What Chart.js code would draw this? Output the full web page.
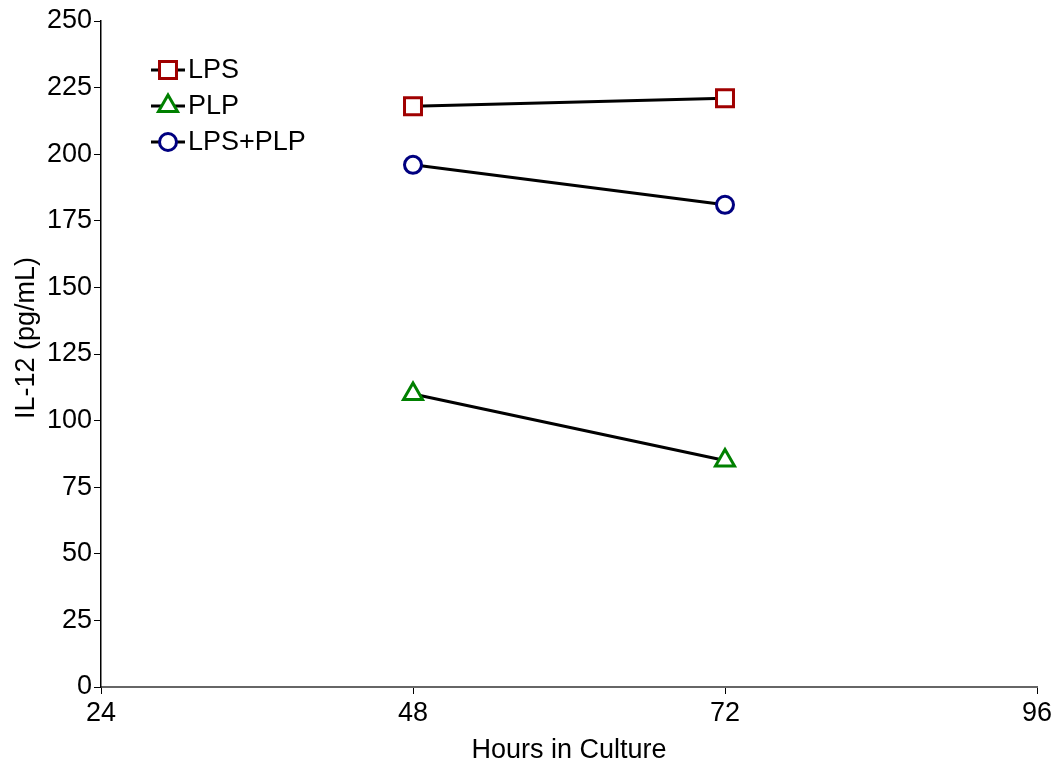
<!DOCTYPE html>
<html>
<head>
<meta charset="utf-8">
<script src="https://cdn.jsdelivr.net/npm/chart.js@4"></script>
<style>
  html, body { margin: 0; padding: 0; background: #fff; }
  #wrap { width: 1058px; height: 767px; }
</style>
</head>
<body>
<div id="wrap"><canvas id="chart" width="1058" height="767"></canvas></div>
<script>
const hours = [48, 72];
const lps = [218, 221];
const plp = [110, 85];
const lpsPlp = [196, 181];
const seriesNames = ['LPS', 'PLP', 'LPS+PLP'];
const xTicks = [24, 48, 72, 96];
const yTitle = 'IL-12 (pg/mL)';

const FONT = "'Liberation Sans', Arial, sans-serif";
const markerSize = { rect: 12, triangle: 11, circle: 8.5 };

function toPoints(xs, ys) {
    return xs.map((x, i) => ({ x: x, y: ys[i] }));
}

function makeSet(label, values, color, style) {
    return {
        label: label,
        data: toPoints(hours, values),
        borderColor: '#000',
        borderWidth: 3,
        pointStyle: style,
        pointRadius: markerSize[style],
        pointBorderColor: color,
        pointBackgroundColor: '#fff',
        pointBorderWidth: 3,
        pointHoverRadius: markerSize[style],
        fill: false,
        tension: 0
    };
}

// legend drawn inside the plot, line + marker like the original
const innerLegend = {
    id: 'innerLegend',
    afterDraw(chart) {
        const ctx = chart.ctx;
        const rows = [70, 106, 142];
        chart.data.datasets.forEach((ds, i) => {
            const y = rows[i];
            ctx.save();
            ctx.strokeStyle = '#000';
            ctx.lineWidth = 3;
            ctx.beginPath();
            ctx.moveTo(151, y);
            ctx.lineTo(185, y);
            ctx.stroke();
            ctx.fillStyle = ds.pointBackgroundColor;
            ctx.strokeStyle = ds.pointBorderColor;
            ctx.lineWidth = ds.pointBorderWidth;
            Chart.helpers.drawPoint(ctx, {
                pointStyle: ds.pointStyle,
                radius: ds.pointRadius,
                borderWidth: ds.pointBorderWidth,
                rotation: 0
            }, 168, y);
            ctx.fillStyle = '#000';
            ctx.font = '27px ' + FONT;
            ctx.textBaseline = 'middle';
            ctx.textAlign = 'left';
            ctx.fillText(ds.label, 188, y + 1);
            ctx.restore();
        });

        // y title sits a bit above the axis centre in the original
        ctx.save();
        ctx.translate(27, 338);
        ctx.rotate(-Math.PI / 2);
        ctx.fillStyle = '#000';
        ctx.font = '27px ' + FONT;
        ctx.textAlign = 'center';
        ctx.textBaseline = 'middle';
        ctx.fillText(yTitle, 0, 0);
        ctx.restore();
    }
};

new Chart(document.getElementById('chart'), {
    type: 'line',
    data: {
        datasets: [
            makeSet(seriesNames[0], lps, '#a00000', 'rect'),
            makeSet(seriesNames[1], plp, '#008000', 'triangle'),
            makeSet(seriesNames[2], lpsPlp, '#000080', 'circle')
        ]
    },
    options: {
        responsive: false,
        animation: false,
        layout: { padding: { top: 21, right: 21, left: 0, bottom: 0 } },
        plugins: {
            legend: { display: false },
            tooltip: { enabled: false }
        },
        scales: {
            x: {
                type: 'linear',
                min: 24,
                max: 96,
                afterBuildTicks(scale) {
                    scale.ticks = xTicks.map(v => ({ value: v }));
                },
                afterFit(scale) { scale.height = 80; },
                grid: {
                    drawOnChartArea: false,
                    drawTicks: true,
                    tickLength: 7,
                    color: '#000'
                },
                border: { color: '#666', width: 2 },
                ticks: {
                    color: '#000',
                    font: { family: FONT, size: 27 },
                    padding: 3,
                    maxRotation: 0
                },
                title: {
                    display: true,
                    text: 'Hours in Culture',
                    color: '#000',
                    font: { family: FONT, size: 27 },
                    padding: { top: 4, bottom: 0 }
                }
            },
            y: {
                min: 0,
                max: 250,
                afterFit(scale) { scale.width = 101; },
                grid: {
                    drawOnChartArea: false,
                    drawTicks: true,
                    tickLength: 7,
                    color: '#000'
                },
                border: { color: '#000', width: 1.5 },
                ticks: {
                    stepSize: 25,
                    color: '#000',
                    font: { family: FONT, size: 27 },
                    padding: 2
                }
            }
        }
    },
    plugins: [innerLegend]
});
</script>
</body>
</html>
